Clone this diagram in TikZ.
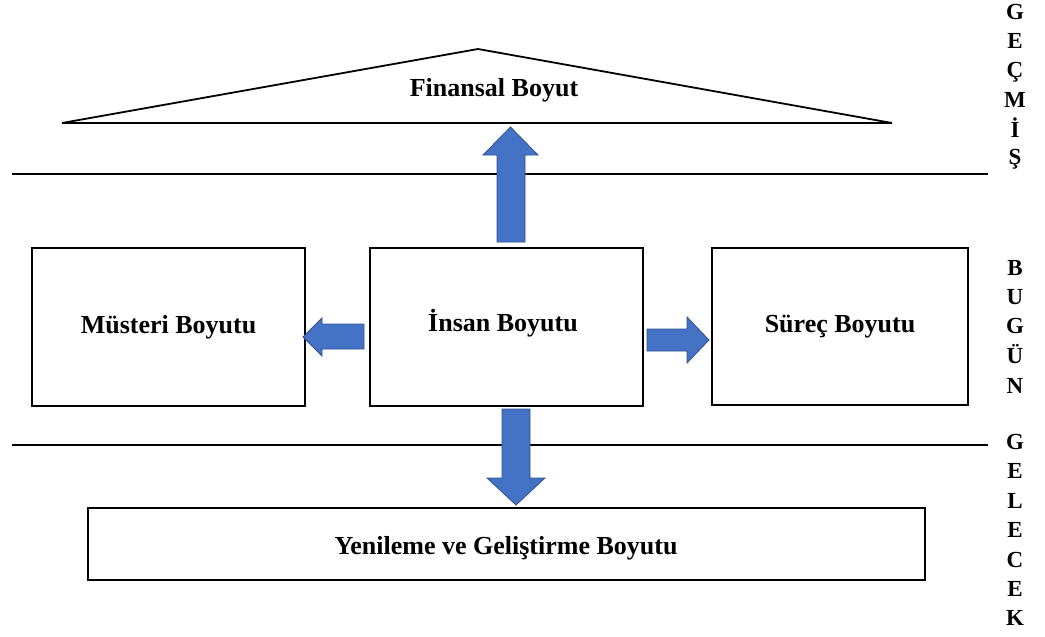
\documentclass[tikz,border=0pt]{standalone}
\usepackage{fontspec}
\setmainfont{Liberation Serif}
\begin{document}
\begin{tikzpicture}[x=1pt,y=-1pt,
  box/.style={draw=black,line width=2pt,fill=white,inner sep=0pt,
    font=\fontsize{26}{30}\selectfont\bfseries},
  blockarrow/.style={fill={rgb,255:red,68;green,114;blue,196},draw={rgb,255:red,47;green,82;blue,143},line width=0.8pt,line join=miter},
  sideletter/.style={anchor=base,inner sep=0pt,font=\fontsize{23}{23}\selectfont\bfseries},
  divider/.style={line width=2.6pt}]
\useasboundingbox (0,0) rectangle (1045,637);
% triangle (Finansal)
\coordinate (apex) at (478,49);
\coordinate (bl) at (62,123);
\coordinate (br) at (892,123);
\draw[line width=1.8pt,line join=miter] (bl) -- (apex) -- (br) -- cycle;
\node[inner sep=0pt,font=\fontsize{26}{30}\selectfont\bfseries] (fin) at (494,90) {Finansal Boyut};
% dividers
\coordinate (l1a) at (12,174); \coordinate (l1b) at (988,174);
\coordinate (l2a) at (12,445); \coordinate (l2b) at (988,445);
\draw[divider] (l1a) -- (l1b);
\draw[divider] (l2a) -- (l2b);
% boxes
\node[box,minimum width=273pt,minimum height=158pt] (mus) at (168.5,327) {Müsteri Boyutu};
\node[box,minimum width=273pt,minimum height=158pt] (ins) at (506.5,327) {};
\node[font=\fontsize{26}{30}\selectfont\bfseries,inner sep=0pt] (inst) at (503,323) {İnsan Boyutu};
\node[box,minimum width=256pt,minimum height=157pt] (sur) at (840,326.5) {Süreç Boyutu};
\node[box,minimum width=837pt,minimum height=72pt] (yen) at (506.5,544) {};
\node[font=\fontsize{26}{30}\selectfont\bfseries,inner sep=0pt] (yent) at (506,548) {Yenileme ve Geliştirme Boyutu};
% block arrows
\draw[blockarrow] (497,242) -- (497,155) -- (483,155) -- (510.5,127) -- (538,155) -- (525,155) -- (525,242) -- cycle;
\draw[blockarrow] (364,324) -- (322,324) -- (322,318) -- (303,337) -- (322,356) -- (322,349) -- (364,349) -- cycle;
\draw[blockarrow] (647,329) -- (687,329) -- (687,317) -- (709,340) -- (687,363) -- (687,351) -- (647,351) -- cycle;
\draw[blockarrow] (502,409) -- (530,409) -- (530,478) -- (545,478) -- (516,505) -- (487,478) -- (502,478) -- cycle;
% side letters
\foreach \t/\yy [count=\i] in {G/12,E/41,Ç/70,M/100,İ/130,Ş/157,B/268,U/297,G/326,Ü/356,N/386,G/442,E/471,L/501,E/530,C/560,E/589,K/618}
  \node[sideletter] (s\i) at (1015,\yy+7.6) {\t};
\end{tikzpicture}
\end{document}
